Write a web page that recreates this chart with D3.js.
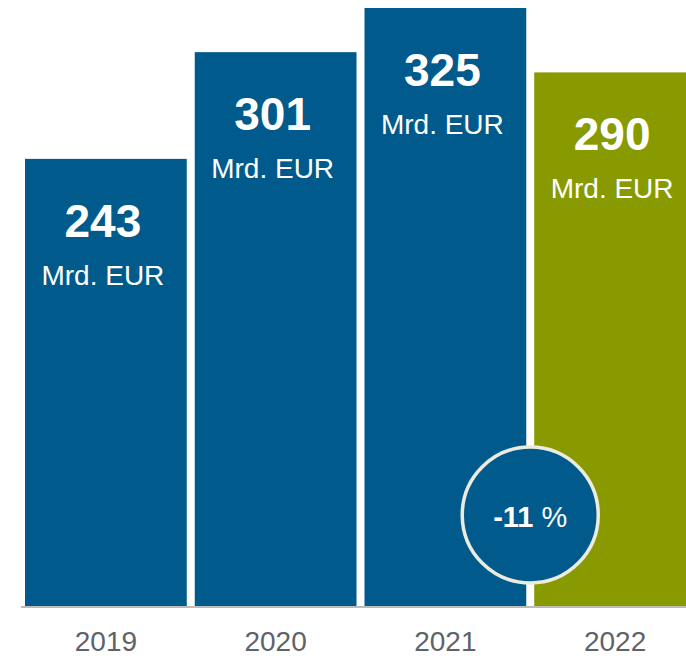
<!DOCTYPE html>
<html lang="de">
<head>
<meta charset="UTF-8">
<title>Mrd. EUR 2019-2022</title>
<style>
  body { margin: 0; background: #fff; }
  svg { display: block; font-family: "Liberation Sans", Arial, sans-serif; }
</style>
</head>
<body>
<script src="https://d3js.org/d3.v7.min.js"></script>
<script>
// data
var years = ["2019", "2020", "2021", "2022"];
var values = [243, 301, 325, 290];
var unit = "Mrd. EUR";
var changeLabel = ["-11", " %"];

var width = 686, height = 659;
var svg = d3.select("body").append("svg").attr("width", width).attr("height", height);

var x = d3.scaleBand().domain(years).range([25, 696]).paddingInner(0.047).paddingOuter(0);
var y = d3.scaleLinear().domain([0, 325]).range([606, 8]);

// bars
svg.selectAll("rect.bar").data(years).enter().append("rect")
  .attr("class", "bar")
  .attr("x", function(d){ return x(d); })
  .attr("y", function(d, i){ return y(values[i]); })
  .attr("width", x.bandwidth())
  .attr("height", function(d, i){ return y(0) - y(values[i]); })
  .attr("fill", function(d, i){ return i == 3 ? "#889a00" : "#005a8c"; });

// axis line
svg.append("line")
  .attr("x1", 21).attr("x2", width)
  .attr("y1", y(0) + 1).attr("y2", y(0) + 1)
  .attr("stroke", "#a6a6a6").attr("stroke-width", 1.5);

// value labels
var lab = svg.selectAll("g.lab").data(years).enter().append("g")
  .attr("class", "lab")
  .attr("transform", function(d, i){ return "translate(" + (x(d) + x.bandwidth()/2 - 3) + "," + y(values[i]) + ")"; });

lab.append("text")
  .attr("y", 78)
  .attr("text-anchor", "middle")
  .attr("fill", "#fff")
  .style("font-size", "46px").style("font-weight", "bold")
  .text(function(d, i){ return values[i]; });

lab.append("text")
  .attr("y", 126)
  .attr("text-anchor", "middle")
  .attr("fill", "#fff")
  .style("font-size", "28px")
  .text(unit);

// year labels
svg.selectAll("text.year").data(years).enter().append("text")
  .attr("class", "year")
  .attr("x", function(d){ return x(d) + x.bandwidth()/2; })
  .attr("y", 651)
  .attr("text-anchor", "middle")
  .attr("fill", "#5d6369")
  .style("font-size", "28px")
  .text(function(d){ return d; });

// change bubble
var cx = (x("2021") + x.bandwidth() + x("2022")) / 2;
var cy = y(0) - 91;
svg.append("circle")
  .attr("cx", cx).attr("cy", cy).attr("r", 68)
  .attr("fill", "#005a8c")
  .attr("stroke", "#ecebe0").attr("stroke-width", 3.5);

var t = svg.append("text")
  .attr("x", cx).attr("y", cy + 12)
  .attr("text-anchor", "middle")
  .attr("fill", "#fff")
  .style("font-size", "29px");
t.append("tspan").style("font-weight", "bold").text(changeLabel[0]);
t.append("tspan").text(changeLabel[1]);
</script>
</body>
</html>
